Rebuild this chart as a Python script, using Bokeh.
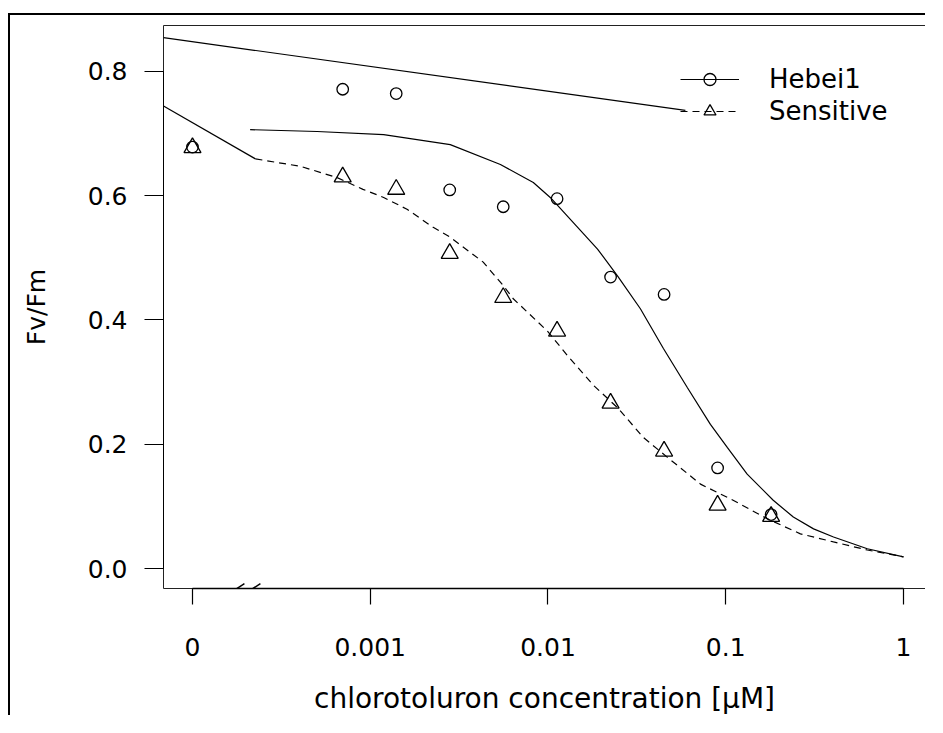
import numpy as np
from bokeh.plotting import figure
from bokeh.models import (Range1d, FixedTicker, CustomJSTickFormatter, Legend,
                          LegendItem, PolyAnnotation, ColumnDataSource)
from bokeh.embed import file_html
from bokeh.resources import INLINE

# ---------------- data ----------------
dose = [0, 0.0007, 0.0014, 0.0028, 0.0056, 0.01125, 0.0225, 0.045, 0.09, 0.18]
hebei1_fvfm = [0.678, 0.771, 0.764, 0.609, 0.582, 0.595, 0.469, 0.441, 0.162, 0.087]
sensitive_fvfm = [0.677, 0.630, 0.610, 0.507, 0.436, 0.382, 0.266, 0.189, 0.102, 0.084]

hebei1_curve_dose = [2.11e-4, 5.02e-4, 1.19e-3, 2.82e-3, 5.40e-3, 8.27e-3, 0.0103,
                     0.0190, 0.0246, 0.0331, 0.0446, 0.0609, 0.0820, 0.102, 0.132,
                     0.185, 0.240, 0.312, 0.404, 0.626, 1.0]
hebei1_curve_fvfm = [0.706, 0.703, 0.698, 0.682, 0.650, 0.621, 0.597,
                     0.514, 0.471, 0.418, 0.354, 0.291, 0.232, 0.195, 0.152,
                     0.110, 0.083, 0.064, 0.051, 0.032, 0.019]

sensitive_curve_dose = [2.26e-4, 4.05e-4, 6.5e-4, 9.1e-4, 1.19e-3, 1.61e-3, 2.26e-3,
                        2.82e-3, 4.32e-3, 5.61e-3, 6.38e-3, 9.93e-3, 0.01285, 0.0180,
                        0.0246, 0.0344, 0.0470, 0.0721, 0.110, 0.172, 0.263, 0.404,
                        0.626, 1.0]
sensitive_curve_fvfm = [0.659, 0.647, 0.629, 0.610, 0.597, 0.578, 0.549,
                        0.533, 0.493, 0.455, 0.434, 0.382, 0.343, 0.295,
                        0.259, 0.211, 0.179, 0.136, 0.110, 0.080, 0.056, 0.043,
                        0.030, 0.019]

# straight segments left of the break
hebei1_stub_dose = [6.87e-5, 0.0593]
hebei1_stub_fvfm = [0.854, 0.737]
sensitive_stub_dose = [6.87e-5, 2.26e-4]
sensitive_stub_fvfm = [0.744, 0.659]

x_tick_values = [1e-4, 1e-3, 1e-2, 1e-1, 1.0]
x_tick_labels = ["0", "0.001", "0.01", "0.1", "1"]
y_tick_values = [0.0, 0.2, 0.4, 0.6, 0.8]
y_tick_labels = ["0.0", "0.2", "0.4", "0.6", "0.8"]
control_position = 1e-4     # where dose 0 is drawn on the log axis

series_names = ["Hebei1", "Sensitive"]

# axis-break slashes: dose extents of the two slashes, response extent
break_slash1_dose = [1.61e-4, 1.96e-4]
break_slash2_dose = [1.98e-4, 2.41e-4]
break_slash_fvfm = [-0.040, -0.024]

# ---------------- layout ----------------
W, H = 917, 702
LEFT, RIGHT, TOP, BOTTOM = 153, 2, 10, 125
FONT = "DejaVu Sans"

p = figure(width=W, height=H, output_backend="svg", toolbar_location=None,
           x_axis_type="log",
           x_range=Range1d(6.87e-5, 1.33), y_range=Range1d(-0.0319, 0.8735),
           min_border_left=LEFT, min_border_right=RIGHT, min_border_top=TOP,
           min_border_bottom=BOTTOM)
# outer device frame: only its left and top edges are in view
p.styles = {"margin-left": "8px", "margin-top": "13px",
            "border-left": "2px solid black", "border-top": "2px solid black"}
p.grid.visible = False
p.background_fill_color = "white"
p.border_fill_color = "white"
p.outline_line_color = "#222222"
p.outline_line_width = 1

plot_dose = [control_position if d == 0 else d for d in dose]
pts = ColumnDataSource(dict(x=plot_dose, h=hebei1_fvfm, s=sensitive_fvfm))

h_stub = p.line(hebei1_stub_dose, hebei1_stub_fvfm, line_color="black", line_width=1.2)
s_stub = p.line(sensitive_stub_dose, sensitive_stub_fvfm, line_color="black", line_width=1.2)
h_line = p.line(hebei1_curve_dose, hebei1_curve_fvfm, line_color="black", line_width=1.2)
s_line = p.line(sensitive_curve_dose, sensitive_curve_fvfm, line_color="black",
                line_width=1.2, line_dash="7 5")
h_pts = p.scatter("x", "h", source=pts, marker="circle", size=11.5,
                  fill_color=None, line_color="black", line_width=1.3)
s_pts = p.scatter("x", "s", source=pts, marker="triangle", size=17,
                  fill_color=None, line_color="black", line_width=1.3)

# axis break slashes
for xs in (break_slash1_dose, break_slash2_dose):
    p.add_layout(PolyAnnotation(xs=xs, ys=break_slash_fvfm, line_color="black",
                                line_alpha=1.0, line_width=1.5, fill_alpha=0))

# axes
xa = p.xaxis[0]
xa.ticker = FixedTicker(ticks=x_tick_values)
xa.formatter = CustomJSTickFormatter(args=dict(labels=x_tick_labels),
                                     code="return labels[Math.round(Math.log10(tick)) + 4];")
xa.bounds = (x_tick_values[0], x_tick_values[-1])
xa.axis_label = "chlorotoluron concentration [µM]"

ya = p.yaxis[0]
ya.ticker = FixedTicker(ticks=y_tick_values)
ya.formatter = CustomJSTickFormatter(args=dict(labels=y_tick_labels),
                                     code="return labels[Math.round(tick / 0.2)];")
ya.bounds = (y_tick_values[0], y_tick_values[-1])
ya.axis_label = "Fv/Fm"

for ax in (xa, ya):
    ax.axis_line_color = "black"
    ax.major_tick_line_color = "black"
    ax.major_tick_line_width = 1.2
    ax.minor_tick_line_color = None
    ax.major_tick_in = 0
    ax.major_label_text_font = FONT
    ax.major_label_text_font_size = "25px"
    ax.major_label_text_color = "black"
    ax.axis_label_text_font = FONT
    ax.axis_label_text_font_style = "normal"
    ax.axis_label_text_color = "black"

xa.axis_line_width = 1.6
xa.major_tick_out = 16
xa.major_label_standoff = 33
xa.axis_label_text_font_size = "28px"
xa.axis_label_standoff = 23

ya.axis_line_width = 1
ya.major_tick_out = 19
ya.major_label_standoff = 17
ya.major_label_orientation = "horizontal"
ya.axis_label_text_font_size = "25px"
ya.axis_label_standoff = 34

legend = Legend(items=[LegendItem(label=series_names[0], renderers=[h_line, h_pts]),
                       LegendItem(label=series_names[1], renderers=[s_line, s_pts])],
                location=(517, 462), border_line_color=None,
                background_fill_alpha=0, padding=0, margin=0, spacing=2,
                glyph_width=59, glyph_height=30, label_height=30,
                label_standoff=30, label_text_font=FONT,
                label_text_font_size="26px", label_text_color="black")
p.add_layout(legend)

open("out.html", "w").write(file_html(p, INLINE))
